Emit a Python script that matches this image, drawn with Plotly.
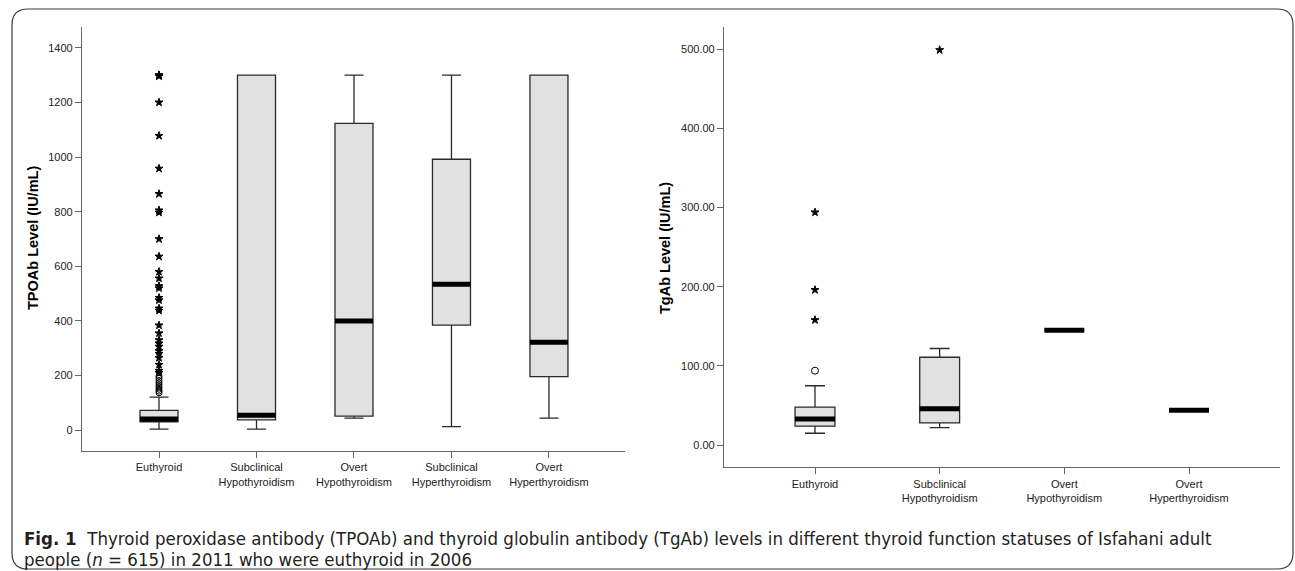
import plotly.graph_objects as go

W, H = 1295, 571

# ---------------- data: TPOAb (left panel) ----------------
cats_l = ["Euthyroid", "Subclinical<br>Hypothyroidism", "Overt<br>Hypothyroidism",
          "Subclinical<br>Hyperthyroidism", "Overt<br>Hyperthyroidism"]
tpo_low = [4, 4, 44, 13, 44]
tpo_q1 = [31, 38, 52, 385, 196]
tpo_med = [41, 55, 400, 534, 322]
tpo_q3 = [73, 1300, 1123, 992, 1300]
tpo_up = [121, 1300, 1300, 1300, 1300]
tpo_eu_extreme = [1300, 1298, 1296, 1200, 1078, 958, 865, 805, 797, 700, 636, 580, 556,
                  528, 520, 485, 476, 446, 438, 384, 355, 330, 318, 306, 290, 280,
                  265, 240, 218, 210]
tpo_eu_outlier = [198, 190, 182, 174, 166, 158, 150, 143, 137]
tpo_ticks = [0, 200, 400, 600, 800, 1000, 1200, 1400]

# ---------------- data: TgAb (right panel) ----------------
cats_r = ["Euthyroid", "Subclinical<br>Hypothyroidism", "Overt<br>Hypothyroidism",
          "Overt<br>Hyperthyroidism"]
tg_low = [15, 22, 145, 44]
tg_q1 = [24, 28, 145, 44]
tg_med = [33, 46, 145, 44]
tg_q3 = [48, 111, 145, 44]
tg_up = [75, 122, 145, 44]
tg_eu_extreme = [294, 196, 158]
tg_eu_outlier = [94]
tg_sub_extreme = [499]
tg_ticks = [0, 100, 200, 300, 400, 500]

BOXFILL = "#e1e1e1"
BOXLINE = "#2a2a2a"
AXCOL = "#666666"
FONT = "Liberation Sans, Arial, sans-serif"

fig = go.Figure()


def add_panel(cats, low, q1, med, q3, up, width_units, med_px, xa, ya):
    fig.add_trace(go.Box(
        x=cats, q1=q1, median=med, q3=q3, lowerfence=low, upperfence=up,
        boxpoints=False, fillcolor=BOXFILL, line=dict(color=BOXLINE, width=1.3),
        width=width_units, whiskerwidth=0.5, xaxis=xa, yaxis=ya,
        showlegend=False, hoverinfo="skip"))
    fig.add_trace(go.Scatter(
        x=cats, y=med, mode="markers", xaxis=xa, yaxis=ya, showlegend=False,
        marker=dict(symbol="line-ew", size=med_px / 1.4,
                    line=dict(color="black", width=5)),
        hoverinfo="skip"))


def add_points(cat, vals, symbol, size, xa, ya):
    fig.add_trace(go.Scatter(
        x=[cat] * len(vals), y=vals, mode="markers", xaxis=xa, yaxis=ya,
        showlegend=False, hoverinfo="skip",
        marker=dict(symbol=symbol, size=size, color="black",
                    line=dict(color="black", width=1))))


add_panel(cats_l, tpo_low, tpo_q1, tpo_med, tpo_q3, tpo_up, 0.39, 38, "x", "y")
add_points(cats_l[0], tpo_eu_outlier, "circle-open", 6, "x", "y")
add_points(cats_l[0], tpo_eu_extreme, "star", 6, "x", "y")

add_panel(cats_r, tg_low, tg_q1, tg_med, tg_q3, tg_up, 0.32, 40, "x2", "y2")
add_points(cats_r[0], tg_eu_outlier, "circle-open", 7, "x2", "y2")
add_points(cats_r[0], tg_eu_extreme, "star", 6, "x2", "y2")
add_points(cats_r[1], tg_sub_extreme, "star", 6, "x2", "y2")

axis_common = dict(showline=True, linecolor=AXCOL, linewidth=1.2, ticks="outside",
                   tickcolor=AXCOL, ticklen=6, tickwidth=1.2, showgrid=False,
                   zeroline=False, automargin=False,
                   tickfont=dict(family=FONT, size=11, color="#222222"))

fig.update_layout(
    width=W, height=H, margin=dict(l=0, r=0, t=0, b=0),
    paper_bgcolor="white", plot_bgcolor="white", boxmode="overlay",
    xaxis=dict(domain=[82 / W, 625 / W], type="category", range=[-0.79, 4.78],
               anchor="y", **axis_common),
    yaxis=dict(domain=[1 - 451 / H, 1 - 27 / H], range=[-76, 1476],
               tickvals=tpo_ticks, anchor="x", **axis_common),
    xaxis2=dict(domain=[724 / W, 1280 / W], type="category", range=[-0.73, 3.73],
                anchor="y2", **axis_common),
    yaxis2=dict(domain=[1 - 467.3 / H, 1 - 27 / H], range=[-28, 528],
                tickvals=tg_ticks, tickformat=".2f", anchor="x2", **axis_common),
)

# axis titles
fig.add_annotation(text="<b>TPOAb Level (IU/mL)</b>", xref="paper", yref="paper",
                   x=33 / W, y=1 - 238 / H, textangle=-90, showarrow=False,
                   xanchor="center", yanchor="middle",
                   font=dict(family=FONT, size=14.5, color="black"))
fig.add_annotation(text="<b>TgAb Level (IU/mL)</b>", xref="paper", yref="paper",
                   x=665 / W, y=1 - 248 / H, textangle=-90, showarrow=False,
                   xanchor="center", yanchor="middle",
                   font=dict(family=FONT, size=14.5, color="black"))

# caption
CAP_FONT = "DejaVu Sans Condensed, DejaVu Sans, sans-serif"
fig.add_annotation(
    text="<b>Fig. 1</b>  Thyroid peroxidase antibody (TPOAb) and thyroid globulin antibody (TgAb) "
         "levels in different thyroid function statuses of Isfahani adult",
    xref="paper", yref="paper", x=22 / W, y=1 - 538 / H, xanchor="left", yanchor="middle",
    showarrow=False, font=dict(family=CAP_FONT, size=18.5, color="#231f20"))
fig.add_annotation(
    text="people (<i>n</i> = 615) in 2011 who were euthyroid in 2006",
    xref="paper", yref="paper", x=22 / W, y=1 - 559 / H, xanchor="left", yanchor="middle",
    showarrow=False, font=dict(family=CAP_FONT, size=18.5, color="#231f20"))

# rounded frame
x0, x1 = 12 / W, 1293 / W
y0, y1 = 1 - 569 / H, 1 - 9 / H
rx, ry = 16 / W, 16 / H
path = (f"M {x0 + rx} {y1} L {x1 - rx} {y1} Q {x1} {y1} {x1} {y1 - ry} "
        f"L {x1} {y0 + ry} Q {x1} {y0} {x1 - rx} {y0} L {x0 + rx} {y0} "
        f"Q {x0} {y0} {x0} {y0 + ry} L {x0} {y1 - ry} Q {x0} {y1} {x0 + rx} {y1} Z")
fig.add_shape(type="path", path=path, xref="paper", yref="paper",
              line=dict(color="#3a3a3a", width=1.2), layer="below")

fig.write_html("out.html", config={"displayModeBar": False},
               post_script="document.body.style.margin='0';")
